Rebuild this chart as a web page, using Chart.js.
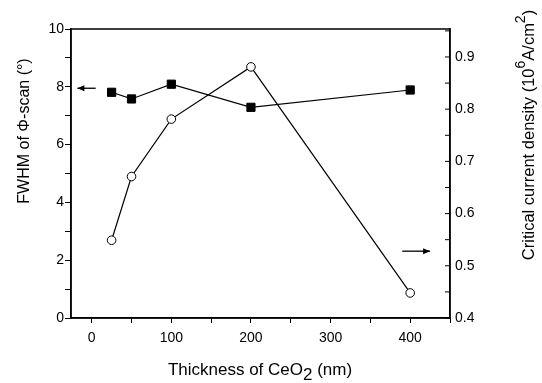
<!DOCTYPE html>
<html>
<head>
<meta charset="utf-8">
<script src="https://cdn.jsdelivr.net/npm/chart.js@4"></script>
<style>
  html, body { margin: 0; padding: 0; background: #fff; }
  #wrap { width: 542px; height: 383px; }
</style>
</head>
<body>
<div id="wrap"><canvas id="chart" width="542" height="383"></canvas></div>
<script>
// thickness of CeO2 (nm)
const thickness = [25, 50, 100, 200, 400];
// FWHM of phi-scan (deg), left axis, filled squares
const fwhm = [7.81, 7.58, 8.09, 7.29, 7.89];
// critical current density (10^6 A/cm^2), right axis, open circles
const jc = [0.549, 0.671, 0.781, 0.881, 0.448];

const FONT = '"Liberation Sans", Arial, sans-serif';

// axis titles (with super/subscripts), frame, inward right ticks and arrows
const decor = {
  id: 'decor',
  afterDraw(chart) {
    const ctx = chart.ctx;
    const a = chart.chartArea;
    const xs = chart.scales.x, yl = chart.scales.y, yr = chart.scales.y1;
    ctx.save();

    // frame
    ctx.strokeStyle = '#000';
    ctx.lineWidth = 1.5;
    ctx.strokeRect(a.left, a.top, a.right - a.left, a.bottom - a.top);

    // right axis ticks point inward
    ctx.lineWidth = 1;
    yr.ticks.forEach(t => {
      const p = yr.getPixelForValue(t.value);
      ctx.beginPath();
      ctx.moveTo(a.right - 5, p);
      ctx.lineTo(a.right, p);
      ctx.stroke();
    });

    // arrows telling which axis each curve uses
    const arrow = (x1, x2, y, headLeft) => {
      ctx.lineWidth = 1.3;
      ctx.beginPath();
      ctx.moveTo(x1, y);
      ctx.lineTo(x2, y);
      ctx.stroke();
      const hx = headLeft ? x1 : x2;
      const d = headLeft ? 1 : -1;
      ctx.beginPath();
      ctx.moveTo(hx, y);
      ctx.lineTo(hx + d * 7, y - 3);
      ctx.lineTo(hx + d * 7, y + 3);
      ctx.closePath();
      ctx.fill();
    };
    ctx.fillStyle = '#000';
    arrow(xs.getPixelForValue(-18), xs.getPixelForValue(5), yl.getPixelForValue(7.95), true);
    arrow(xs.getPixelForValue(390), xs.getPixelForValue(425), yr.getPixelForValue(0.528), false);

    // left title
    ctx.font = '16px ' + FONT;
    ctx.textAlign = 'center';
    ctx.textBaseline = 'middle';
    ctx.save();
    ctx.translate(25, 131);
    ctx.rotate(-Math.PI / 2);
    ctx.fillText('FWHM of \u03A6-scan (\u00B0)', 0, 0);
    ctx.restore();

    // right title with superscripts
    const parts = [
      ['Critical current density (10', 16.5, 0],
      ['6', 14, -8],
      ['A/cm', 16.5, 0],
      ['2', 14, -8],
      [')', 16.5, 0]
    ];
    let total = 0;
    parts.forEach(p => { ctx.font = p[1] + 'px ' + FONT; total += ctx.measureText(p[0]).width; });
    ctx.save();
    ctx.translate(529, 135);
    ctx.rotate(-Math.PI / 2);
    ctx.textAlign = 'left';
    ctx.textBaseline = 'middle';
    let cx = -total / 2;
    parts.forEach(p => {
      ctx.font = p[1] + 'px ' + FONT;
      ctx.fillText(p[0], cx, p[2]);
      cx += ctx.measureText(p[0]).width;
    });
    ctx.restore();

    // bottom title with subscript
    const xp = [
      ['Thickness of CeO', 17, 0],
      ['2', 17, 5],
      [' (nm)', 17, 0]
    ];
    total = 0;
    xp.forEach(p => { ctx.font = p[1] + 'px ' + FONT; total += ctx.measureText(p[0]).width; });
    ctx.textAlign = 'left';
    ctx.textBaseline = 'alphabetic';
    cx = 260 - total / 2;
    xp.forEach(p => {
      ctx.font = p[1] + 'px ' + FONT;
      ctx.fillText(p[0], cx, 375 + p[2]);
      cx += ctx.measureText(p[0]).width;
    });

    ctx.restore();
  }
};

const tickFont = { family: FONT, size: 14 };

new Chart(document.getElementById('chart'), {
  type: 'line',
  data: {
    datasets: [
      {
        label: 'FWHM',
        data: thickness.map((t, i) => ({ x: t, y: fwhm[i] })),
        yAxisID: 'y',
        borderColor: '#000',
        borderWidth: 1.2,
        pointStyle: 'rect',
        pointRadius: 5.8,
        pointBackgroundColor: '#000',
        pointBorderColor: '#000',
        pointBorderWidth: 1,
        tension: 0
      },
      {
        label: 'Jc',
        data: thickness.map((t, i) => ({ x: t, y: jc[i] })),
        yAxisID: 'y1',
        borderColor: '#000',
        borderWidth: 1.2,
        pointStyle: 'circle',
        pointRadius: 4.3,
        pointBackgroundColor: '#fff',
        pointBorderColor: '#000',
        pointBorderWidth: 1,
        tension: 0
      }
    ]
  },
  options: {
    responsive: false,
    animation: false,
    layout: { padding: { top: 29, left: 0, right: 0, bottom: 0 } },
    plugins: { legend: { display: false }, tooltip: { enabled: false } },
    scales: {
      x: {
        type: 'linear',
        position: 'bottom',
        min: -26,
        max: 450,
        afterFit: s => { s.height = 65; },
        border: { display: true, color: '#000', width: 1.5 },
        grid: { drawOnChartArea: false, tickLength: 5, tickColor: '#000', tickWidth: 1 },
        ticks: {
          stepSize: 50,
          includeBounds: false,
          maxRotation: 0,
          autoSkip: false,
          padding: 7,
          color: '#000',
          font: tickFont,
          callback: v => (v % 100 === 0 ? String(v) : '')
        }
      },
      y: {
        position: 'left',
        min: 0,
        max: 10,
        afterFit: s => { s.width = 71; },
        border: { display: true, color: '#000', width: 1.5 },
        grid: { drawOnChartArea: false, tickLength: 6, tickColor: '#000', tickWidth: 1 },
        ticks: {
          stepSize: 1,
          autoSkip: false,
          padding: 1,
          color: '#000',
          font: tickFont,
          callback: v => (v % 2 === 0 ? String(v) : '')
        }
      },
      y1: {
        position: 'right',
        min: 0.4,
        max: 0.9536,
        afterFit: s => { s.width = 92; },
        border: { display: true, color: '#000', width: 1.5 },
        grid: { drawOnChartArea: false, drawTicks: false },
        ticks: {
          stepSize: 0.05,
          includeBounds: false,
          autoSkip: false,
          padding: 5,
          color: '#000',
          font: tickFont,
          callback: v => (Math.round(v * 100) % 10 === 0 ? v.toFixed(1) : '')
        }
      }
    }
  },
  plugins: [decor]
});
</script>
</body>
</html>
